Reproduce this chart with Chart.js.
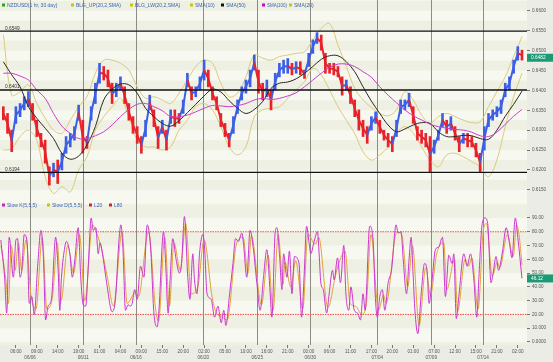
<!DOCTYPE html>
<html>
<head>
<meta charset="utf-8">
<script src="https://cdn.jsdelivr.net/npm/chart.js@4.4.0/dist/chart.umd.min.js"></script>
<style>
  html, body { margin: 0; padding: 0; background: #ecece6; }
  #wrap { position: relative; width: 553px; height: 362px; overflow: hidden; }
  #priceChart { position: absolute; left: 0; top: 0; }
  #stochChart { position: absolute; left: 0; top: 200px; }
</style>
</head>
<body>
<div id="wrap">
  <canvas id="priceChart" width="553" height="200"></canvas>
  <canvas id="stochChart" width="553" height="162"></canvas>
</div>
<script>
// ---- data (one bar slot = ~4 hours) ----
var priceHigh = [
  .6359,.6342,.6300,.6359,.6367,.6384,.6397,.6367,.6325,.6292,
  .6275,.6208,.6217,.6225,.6242,.6284,.6292,.6309,.6363,.6325,
  .6284,.6359,.6418,.6468,.6460,.6451,.6418,.6418,.6434,.6409,
  .6367,.6334,.6309,.6284,.6325,.6388,.6351,.6309,.6325,.6300,
  .6351,.6351,.6342,.6376,.6443,.6409,.6409,.6434,.6476,.6451,
  .6409,.6384,.6342,.6317,.6292,.6334,.6376,.6409,.6426,.6451,
  .6489,.6451,.6418,.6426,.6401,.6443,.6468,.6476,.6480,.6468,
  .6472,.6472,.6451,.6493,.6527,.6545,.6539,.6493,.6468,.6468,
  .6460,.6434,.6426,.6409,.6376,.6351,.6325,.6309,.6334,.6346,
  .6325,.6300,.6292,.6284,.6325,.6376,.6376,.6393,.6359,.6309,
  .6300,.6292,.6284,.6275,.6300,.6342,.6325,.6334,.6309,.6284,
  .6292,.6292,.6284,.6267,.6242,.6309,.6342,.6351,.6359,.6376,
  .6418,.6434,.6476,.6510,.6501
];
var priceLow = [
  .6326,.6292,.6246,.6317,.6334,.6351,.6359,.6325,.6284,.6258,
  .6217,.6162,.6183,.6166,.6200,.6242,.6258,.6275,.6325,.6242,
  .6254,.6325,.6367,.6418,.6426,.6409,.6367,.6384,.6401,.6367,
  .6325,.6292,.6267,.6242,.6284,.6351,.6309,.6254,.6292,.6250,
  .6317,.6309,.6317,.6342,.6409,.6376,.6384,.6401,.6426,.6409,
  .6376,.6351,.6309,.6284,.6258,.6292,.6342,.6376,.6393,.6409,
  .6451,.6393,.6376,.6384,.6351,.6401,.6434,.6443,.6443,.6439,
  .6443,.6439,.6430,.6460,.6493,.6518,.6501,.6443,.6443,.6439,
  .6434,.6388,.6401,.6367,.6334,.6300,.6284,.6267,.6300,.6317,
  .6292,.6275,.6258,.6246,.6284,.6342,.6351,.6359,.6317,.6275,
  .6267,.6258,.6196,.6242,.6275,.6309,.6292,.6300,.6275,.6246,
  .6267,.6258,.6258,.6233,.6196,.6250,.6309,.6325,.6334,.6342,
  .6384,.6401,.6443,.6476,.6476
];
// indicator lines, one value every 2 bar slots
var sma50 = [
  .6472,.6439,.6409,.6359,.6330,.6305,.6279,.6242,.6227,.6235,.6263,.6309,.6376,.6403,.6416,.6414,
  .6393,.6355,.6334,.6317,.6310,.6324,.6344,.6365,.6386,.6403,.6396,.6374,.6355,.6342,.6352,.6372,
  .6405,.6418,.6421,.6429,.6443,.6460,.6478,.6487,.6487,.6472,.6447,.6409,.6373,.6342,.6313,.6296,
  .6303,.6313,.6319,.6317,.6296,.6284,.6284,.6287,.6286,.6279,.6277,.6300,.6335,.6365,.6398
];
var sma100 = [
  .6443,.6443,.6436,.6426,.6401,.6380,.6342,.6310,.6292,.6279,.6279,.6286,.6296,.6313,.6334,.6352,
  .6365,.6367,.6359,.6349,.6334,.6334,.6338,.6346,.6355,.6362,.6361,.6359,.6362,.6367,.6376,.6380,
  .6377,.6380,.6386,.6394,.6409,.6426,.6443,.6458,.6466,.6466,.6460,.6447,.6433,.6409,.6388,.6369,
  .6351,.6336,.6326,.6315,.6309,.6305,.6302,.6300,.6295,.6286,.6284,.6295,.6315,.6335,.6352
];
var bollUp = [
  .6540,.6388,.6397,.6414,.6367,.6330,.6300,.6292,.6325,.6359,.6384,.6443,.6476,.6476,.6468,.6451,
  .6409,.6380,.6384,.6376,.6367,.6393,.6426,.6460,.6476,.6468,.6418,.6384,.6393,.6434,.6489,.6481,
  .6476,.6485,.6489,.6493,.6497,.6527,.6556,.6568,.6514,.6460,.6405,.6376,.6357,.6342,.6336,.6351,
  .6397,.6376,.6338,.6317,.6334,.6342,.6334,.6325,.6319,.6321,.6359,.6397,.6434,.6485,.6535
];
var bollLow = [
  .6250,.6254,.6284,.6300,.6275,.6183,.6141,.6158,.6145,.6200,.6233,.6300,.6334,.6359,.6380,.6334,
  .6275,.6258,.6258,.6250,.6258,.6300,.6325,.6359,.6367,.6351,.6309,.6258,.6238,.6258,.6334,.6351,
  .6355,.6359,.6380,.6401,.6422,.6455,.6439,.6401,.6359,.6325,.6292,.6246,.6225,.6238,.6258,.6292,
  .6309,.6292,.6258,.6225,.6208,.6238,.6242,.6233,.6221,.6208,.6183,.6225,.6309,.6384,.6443
];
var levels = [0.6549, 0.6401, 0.6194];
var lastPrice = 0.6482;

// stochastic: [bar slot, value]
var slowK = [
  [-0.6,74],[0.3,47],[0.8,21],[1.4,76],[2.4,47],[3.0,74],[3.4,75],[4.0,47],[4.4,52],[5.0,78],
  [5.7,72],[6.2,28],[6.8,33],[7.4,20],[8.2,55],[9.0,81],[9.6,60],[10.1,16],[10.7,26],[11.5,31],
  [12.5,76],[13.1,52],[13.5,23],[13.9,47],[14.7,69],[15.1,73],[15.9,64],[16.5,47],[17.1,60],[17.9,83],
  [18.5,47],[19.1,27],[19.7,26],[20.3,55],[21.0,90],[21.5,81],[22.1,83],[22.7,64],[23.1,72],[23.9,60],
  [24.7,43],[26.0,22],[26.8,31],[27.6,72],[28.1,85],[28.6,67],[29.2,23],[29.8,27],[30.4,26],[30.8,28],
  [31.4,38],[32.0,31],[32.8,55],[33.6,47],[34.4,85],[35.2,69],[36.0,21],[36.8,11],[37.2,23],[38.3,80],
  [38.8,57],[39.4,21],[39.9,47],[40.5,75],[41.3,60],[42.1,50],[42.6,57],[43.3,91],[44.1,47],[44.6,31],
  [45.3,64],[45.7,45],[46.3,35],[46.9,64],[47.7,78],[48.1,69],[48.7,35],[49.7,31],[50.5,18],[51.3,26],
  [52.1,14],[52.7,23],[53.2,12],[54.1,35],[54.9,57],[55.5,75],[56.2,73],[57.0,79],[57.4,72],[58.2,47],
  [59.0,81],[59.8,67],[60.6,43],[61.4,23],[62.2,47],[63.0,67],[63.8,35],[64.2,18],[65.0,80],[65.4,83],
  [66.1,60],[66.6,38],[67.0,64],[67.8,47],[68.4,66],[69.0,35],[69.6,62],[70.7,57],[71.3,18],[71.9,47],
  [72.5,84],[73.1,72],[73.5,64],[74.3,73],[75.1,80],[75.5,64],[75.9,43],[76.5,38],[77.3,21],[77.9,35],
  [78.7,52],[79.1,45],[79.9,61],[80.6,43],[81.4,70],[81.9,35],[82.6,23],[83.1,40],[83.9,23],[84.7,21],
  [85.4,16],[86.0,35],[86.5,23],[87.6,84],[88.4,74],[88.9,35],[89.4,18],[90.0,33],[90.6,38],[91.2,23],
  [92.0,43],[92.8,52],[93.9,85],[94.4,79],[95.1,80],[95.6,60],[96.4,35],[97.0,60],[97.5,76],[98.0,47],
  [98.4,23],[99.1,6],[99.9,35],[100.7,57],[101.3,52],[101.8,28],[102.5,45],[103.3,67],[104.1,69],[105.0,76],
  [105.7,33],[106.5,63],[107.3,57],[107.7,64],[108.3,17],[108.9,33],[110.1,64],[110.9,55],[111.7,64],[112.5,45],
  [113.2,18],[113.7,47],[114.5,86],[115.2,90],[115.8,86],[116.6,43],[117.1,50],[117.8,62],[118.4,52],[119.4,67],
  [120.2,83],[121.0,72],[121.6,61],[122.4,90],[123.0,76],[124.0,46.12]
];
var slowD = [
  [-0.6,70],[0.6,45],[1.2,28],[1.9,70],[2.8,52],[3.6,72],[4.4,52],[5.4,74],[6.6,34],[7.8,24],
  [9.3,76],[10.4,24],[11.8,34],[12.9,72],[13.8,30],[15.4,70],[16.8,50],[18.2,78],[19.5,30],[21.3,85],
  [22.4,78],[23.3,70],[25.0,45],[26.3,26],[28.4,80],[29.6,28],[31.6,36],[32.3,33],[34.7,80],[36.4,24],
  [37.1,15],[38.6,76],[39.7,26],[40.8,72],[42.3,52],[43.6,86],[44.9,35],[46.5,40],[48.0,74],[49.9,33],
  [50.8,22],[52.4,18],[53.5,16],[55.8,72],[57.3,76],[58.5,50],[59.3,77],[61.7,27],[63.3,63],[64.5,23],
  [65.7,78],[66.9,42],[67.3,58],[68.7,40],[69.9,59],[71.6,24],[72.8,78],[74.6,71],[75.4,76],[77.6,25],
  [79.4,48],[80.1,56],[81.7,66],[82.9,28],[84.2,26],[85.7,20],[86.8,28],[87.9,78],[89.7,23],[90.9,34],
  [91.5,28],[94.1,80],[95.3,77],[96.7,40],[97.8,70],[99.4,12],[101.0,54],[102.1,34],[103.6,64],[105.3,72],
  [106.0,38],[107.9,60],[108.6,22],[110.4,60],[111.2,55],[112.0,61],[113.5,24],[114.8,82],[115.5,86],[116.9,48],
  [118.1,58],[118.7,54],[120.5,78],[121.9,62],[122.7,85],[123.3,78],[124.0,56]
];
var lastStoch = 46.12;

// axes
var priceTicks = [0.6150, 0.6200, 0.6250, 0.6300, 0.6350, 0.6400, 0.6450, 0.6500, 0.6550, 0.6600];
var stochTicks = [0, 10, 20, 30, 40, 50, 60, 70, 80, 90];
var stochTickLabels = ['0.0000', '10.000', '20.00', '30.00', '40.00', '50.00', '60.00', '70.00', '80.00', '90.00'];
var timeTicks = [3, 8, 13, 18, 23, 28, 33, 38, 43, 48, 53, 58, 63, 68, 73, 78, 83, 88, 93, 98, 103, 108, 113, 118, 123];
var timeLabels = ['06:00','09:00','14:00','19:00','01:00','04:00','09:00','15:00','20:00','02:00','05:00','10:00','16:00',
                  '21:00','00:00','06:00','11:00','17:00','20:00','01:00','07:00','12:00','15:00','21:00','02:00'];
var daySeps = [6.4, 19.1, 31.7, 47.8, 60.7, 73.4, 89.4, 102.3, 114.7];
var dayLabels = ['06/06','06/11','06/16','06/20','06/25','06/30','07/04','07/09','07/14'];

// ---- drawing ----
var FONT = "'Liberation Sans', Arial, sans-serif";
var X_MIN = -0.8, X_MAX = 125.2;
var UP = '#3d5fe6', DOWN = '#e8222a';

function every2(arr) {
  return arr.map(function (v, k) { return { x: k * 2, y: v }; });
}
function pairs(arr) {
  return arr.map(function (p) { return { x: p[0], y: p[1] }; });
}
function hline(v) {
  return [{ x: X_MIN, y: v }, { x: X_MAX, y: v }];
}
function rising(i) {
  return i > 0 && (priceHigh[i] + priceLow[i]) >= (priceHigh[i - 1] + priceLow[i - 1]);
}
function lineSet(data, color, width, order, extra) {
  var d = { type: 'line', data: data, borderColor: color, borderWidth: width, pointRadius: 0,
            tension: 0.35, order: order, fill: false };
  for (var k in extra) d[k] = extra[k];
  return d;
}
function rightAxis(min, max, ticks, label) {
  return {
    type: 'linear', position: 'right', min: min, max: max,
    afterBuildTicks: function (s) { s.ticks = ticks.map(function (v) { return { value: v }; }); },
    afterFit: function (s) { s.width = 26; s.paddingTop = 0; s.paddingBottom = 0; },
    grid: { drawOnChartArea: false, tickLength: 3, color: '#777' },
    border: { display: false },
    ticks: { padding: 2, color: '#555', font: { size: 4.6, family: FONT }, callback: label }
  };
}

// items: [colour, text, x of the square]
function drawLegend(ctx, items) {
  ctx.font = '5px ' + FONT;
  ctx.textBaseline = 'middle';
  ctx.textAlign = 'left';
  items.forEach(function (it, i) {
    var room = i < items.length - 1 ? items[i + 1][2] - it[2] - 7 : 24;
    ctx.fillStyle = it[0];
    ctx.fillRect(it[2], 3.5, 3, 3);
    ctx.fillStyle = '#3c64b4';
    ctx.fillText(it[1], it[2] + 5, 5.2, room);
  });
}
function drawBadge(chart, value, text) {
  var ctx = chart.ctx, a = chart.chartArea;
  var y = chart.scales.y.getPixelForValue(value);
  ctx.fillStyle = '#1c9a74';
  ctx.fillRect(a.right, y - 4, chart.width - a.right, 8);
  ctx.fillStyle = '#fff';
  ctx.font = '4.8px ' + FONT;
  ctx.textBaseline = 'middle';
  ctx.textAlign = 'left';
  ctx.fillText(text, a.right + 4, y + 0.3);
}

function panelPlugin(bandFrom, bandStep, after) {
  return {
    id: 'panel',
    beforeDraw: function (chart) {
      var ctx = chart.ctx, a = chart.chartArea, ys = chart.scales.y, xs = chart.scales.x;
      ctx.save();
      ctx.fillStyle = '#ecece6';
      ctx.fillRect(0, 0, chart.width, chart.height);
      ctx.fillStyle = '#f7f8f0';
      ctx.fillRect(a.left, a.top, a.width, a.height);
      ctx.fillStyle = '#edf0e2';
      var k = 0;
      for (var v = bandFrom; v < ys.max; v += bandStep, k++) {
        if (k % 2) continue;
        var y1 = ys.getPixelForValue(v + bandStep), y2 = ys.getPixelForValue(v);
        var t = Math.max(a.top, y1), b = Math.min(a.bottom, y2);
        if (b > t) ctx.fillRect(a.left, t, a.width, b - t);
      }
      ctx.strokeStyle = '#8c8c84';
      ctx.lineWidth = 1;
      daySeps.forEach(function (d) {
        var x = Math.round(xs.getPixelForValue(d)) + 0.5;
        ctx.beginPath();
        ctx.moveTo(x, a.top);
        ctx.lineTo(x, a.bottom);
        ctx.stroke();
      });
      ctx.restore();
    },
    afterDraw: function (chart) {
      chart.ctx.save();
      after(chart);
      chart.ctx.restore();
    }
  };
}

var priceChart = new Chart(document.getElementById('priceChart'), {
  type: 'line',
  data: {
    datasets: [
      lineSet(every2(bollUp), '#dccb7c', 1, 4),
      lineSet(every2(bollLow), '#dccb7c', 1, 4),
      {
        type: 'bar', order: 3, barThickness: 2, borderWidth: 0,
        data: priceHigh.map(function (h, i) { return { x: i, y: [priceLow[i], h] }; }),
        backgroundColor: function (c) { return rising(c.dataIndex) ? UP : DOWN; }
      },
      // bar midpoints joined, so the bars read as one jagged ribbon
      lineSet(priceHigh.map(function (h, i) { return { x: i, y: (h + priceLow[i]) / 2 }; }), DOWN, 2, 2, {
        tension: 0,
        segment: { borderColor: function (c) { return rising(c.p1DataIndex) ? UP : DOWN; } }
      }),
      lineSet(every2(sma100), '#c941c9', 1, 1),
      lineSet(every2(sma50), '#2a2a22', 1, 1),
      lineSet(hline(levels[0]), '#111', 1.3, 0, { tension: 0 }),
      lineSet(hline(levels[1]), '#111', 1.3, 0, { tension: 0 }),
      lineSet(hline(levels[2]), '#111', 1.3, 0, { tension: 0 })
    ]
  },
  options: {
    responsive: false, animation: false,
    layout: { padding: 0 },
    plugins: { legend: { display: false }, tooltip: { enabled: false } },
    scales: {
      x: { type: 'linear', min: X_MIN, max: X_MAX, display: false, offset: false },
      y: rightAxis(0.61246, 0.66271, priceTicks, function (v) { return v.toFixed(4); })
    }
  },
  plugins: [panelPlugin(0.6100, 0.0025, function (chart) {
    var ctx = chart.ctx, ys = chart.scales.y;
    drawLegend(ctx, [
      ['#22aa22', 'NZDUSD(1 hr, 30 day)', 2], ['#c8c800', 'BLG_UP(20,2,SMA)', 71],
      ['#c8c800', 'BLG_LW(20,2,SMA)', 130], ['#c8c800', 'SMA(10)', 190], ['#111', 'SMA(50)', 221],
      ['#d400d4', 'SMA(100)', 262], ['#c8c800', 'SMA(20)', 289]
    ]);
    ctx.font = '4.8px ' + FONT;
    ctx.fillStyle = '#333';
    ctx.textBaseline = 'bottom';
    levels.forEach(function (v) {
      ctx.fillText(v.toFixed(4), 5, ys.getPixelForValue(v) - 0.5);
    });
    drawBadge(chart, lastPrice, lastPrice.toFixed(4));
  })]
});

var stochChart = new Chart(document.getElementById('stochChart'), {
  type: 'line',
  data: {
    datasets: [
      lineSet(hline(80), '#f24c4c', 1, 2, { tension: 0, borderDash: [1.5, 1] }),
      lineSet(hline(20), '#f24c4c', 1, 2, { tension: 0, borderDash: [1.5, 1] }),
      lineSet(pairs(slowD), '#e3a23a', 1, 1, { cubicInterpolationMode: 'monotone' }),
      lineSet(pairs(slowK), '#cc36d0', 1, 0, { cubicInterpolationMode: 'monotone' })
    ]
  },
  options: {
    responsive: false, animation: false,
    layout: { padding: 0 },
    plugins: { legend: { display: false }, tooltip: { enabled: false } },
    scales: {
      x: {
        type: 'linear', min: X_MIN, max: X_MAX, offset: false, position: 'bottom',
        afterBuildTicks: function (s) { s.ticks = timeTicks.map(function (v) { return { value: v }; }); },
        afterFit: function (s) { s.height = 17; s.paddingLeft = 0; s.paddingRight = 0; },
        grid: { drawOnChartArea: false, tickLength: 3, color: '#777' },
        border: { display: false },
        ticks: {
          autoSkip: false, maxRotation: 0, padding: 1, color: '#555',
          font: { size: 4.6, family: FONT },
          callback: function (v, i) { return timeLabels[i]; }
        }
      },
      y: rightAxis(-2.18, 103.05, stochTicks, function (v, i) { return stochTickLabels[i]; })
    }
  },
  plugins: [panelPlugin(-10, 10, function (chart) {
    var ctx = chart.ctx, xs = chart.scales.x, a = chart.chartArea;
    drawLegend(ctx, [
      ['#cc22cc', 'Slow K(5,5,5)', 2], ['#c8c800', 'Slow D(5,5,5)', 47],
      ['#dd2222', 'L20', 89], ['#dd2222', 'L80', 109]
    ]);
    ctx.font = '4.6px ' + FONT;
    ctx.fillStyle = '#555';
    ctx.textAlign = 'center';
    ctx.textBaseline = 'middle';
    daySeps.forEach(function (d, i) {
      ctx.fillText(dayLabels[i], xs.getPixelForValue(d), a.bottom + 13);
    });
    drawBadge(chart, lastStoch, lastStoch.toFixed(2));
  })]
});
</script>
</body>
</html>
